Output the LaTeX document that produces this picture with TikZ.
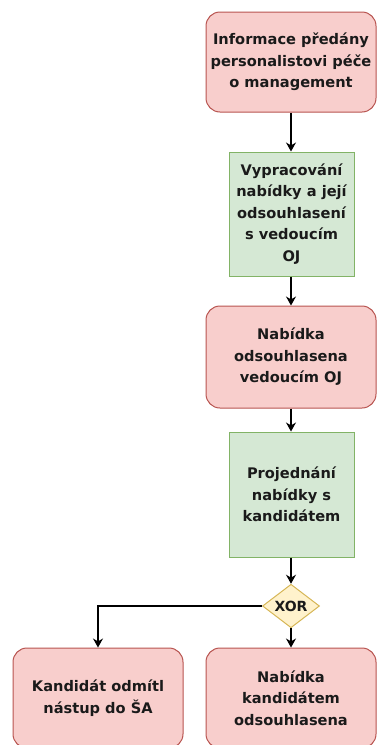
\documentclass[tikz,border=0pt]{standalone}
\usepackage{fontspec}
\setmainfont{DejaVu Sans}
\usetikzlibrary{shapes.geometric,arrows.meta}
\definecolor{stateFill}{RGB}{248, 206, 204}
\definecolor{stateLine}{RGB}{184, 84, 80}
\definecolor{taskFill}{RGB}{213, 232, 212}
\definecolor{taskLine}{RGB}{130, 179, 102}
\definecolor{gateFill}{RGB}{255, 242, 204}
\definecolor{gateLine}{RGB}{214, 182, 86}
\definecolor{inkColor}{RGB}{26, 26, 26}

\begin{document}
\begin{tikzpicture}[x=1pt, y=-1pt,
    state/.style={draw=stateLine, fill=stateFill, line width=1pt, rounded corners=14pt, align=center, text=inkColor, font=\bfseries\fontsize{14.6}{21.5}\selectfont},
    task/.style={draw=taskLine, fill=taskFill, line width=1pt, align=center, text=inkColor, font=\bfseries\fontsize{14.6}{21.5}\selectfont},
    gate/.style={diamond, draw=gateLine, fill=gateFill, line width=1pt, inner sep=0pt, text=inkColor, font=\bfseries\fontsize{14}{15}\selectfont},
    flow/.style={-{Stealth[length=9pt, width=10pt]}, line width=1.2pt}]
    % outcome boxes run past the lower edge
    \clip (0,0) rectangle (377,745);

    % Main column
    \node[state, minimum width=170pt, minimum height=100pt] (predano) at (291,62) {Informace předány\\personalistovi péče\\o management};
    \node[task, minimum width=125pt, minimum height=124pt] (vypracovani) at (291.5,214) {Vypracování\\nabídky a její\\odsouhlasení\\s vedoucím\\OJ};
    \node[state, minimum width=170pt, minimum height=102pt] (odsouhlaseno) at (291,357) {Nabídka\\odsouhlasena\\vedoucím OJ};
    \node[task, minimum width=125pt, minimum height=125pt] (projednani) at (291.5,494.5) {Projednání\\nabídky s\\kandidátem};
    \node[gate, minimum width=57pt, minimum height=38pt] (xor) at (291,606) {XOR};

    % Outcomes
    \node[state, minimum width=170pt, minimum height=100pt] (odmitl) at (98,698) {Kandidát odmítl\\nástup do ŠA};
    \node[state, minimum width=170pt, minimum height=100pt] (prijal) at (291,698) {Nabídka\\kandidátem\\odsouhlasena};

    % Connectors
    \draw[flow] (predano.south -| xor) -- (vypracovani.north -| xor);
    \draw[flow] (vypracovani.south -| xor) -- (odsouhlaseno.north -| xor);
    \draw[flow] (odsouhlaseno.south -| xor) -- (projednani.north -| xor);
    \draw[flow] (projednani.south -| xor) -- (xor.north);
    \draw[flow] (xor.west) -| (odmitl.north);
    \draw[flow] (xor.south) -- (prijal.north -| xor);
\end{tikzpicture}
\end{document}
